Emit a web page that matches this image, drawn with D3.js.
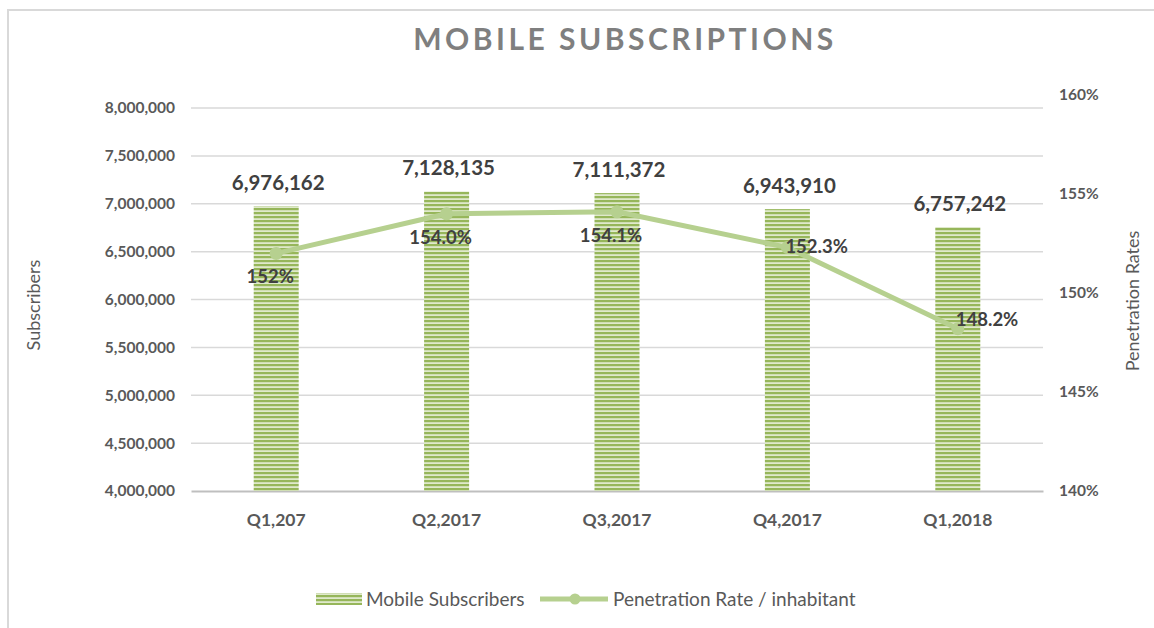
<!DOCTYPE html>
<html>
<head>
<meta charset="utf-8">
<script src="https://cdn.jsdelivr.net/npm/d3@7"></script>
<style>
  body { margin: 0; background: #fff; }
  text { font-family: Lato, "Open Sans", sans-serif; }
</style>
</head>
<body>
<div id="chart"></div>
<script>
// data
const quarters = ["Q1,207", "Q2,2017", "Q3,2017", "Q4,2017", "Q1,2018"];
const subscribers = [6976162, 7128135, 7111372, 6943910, 6757242];
const penetration = [152.0, 154.0, 154.1, 152.3, 148.2];
const penetrationLabels = ["152%", "154.0%", "154.1%", "152.3%", "148.2%"];
const leftTicks = [4000000, 4500000, 5000000, 5500000, 6000000, 6500000, 7000000, 7500000, 8000000];
const rightTicks = [140, 145, 150, 155, 160];

const W = 1154, H = 628;
const margin = {top: 108, left: 191, right: 1043, bottom: 491};

const svg = d3.select("#chart")
    .append("svg")
    .attr("width", W)
    .attr("height", H);

// outer frame (only top/left are visible in the reference)
svg.append("path")
    .attr("d", `M8,${H} L8,10 L${W},10`)
    .attr("fill", "none")
    .attr("stroke", "#d9d9d9")
    .attr("stroke-width", 2);

// striped fill for bars
const defs = svg.append("defs");
const pat = defs.append("pattern")
    .attr("id", "stripes")
    .attr("patternUnits", "userSpaceOnUse")
    .attr("width", 8).attr("height", 4);
pat.append("rect").attr("width", 8).attr("height", 4).attr("fill", "#dfe9cb");
pat.append("rect").attr("width", 8).attr("height", 2.2).attr("fill", "#96b65a");

const x = d3.scaleBand()
    .domain(quarters)
    .range([margin.left, margin.right]);

const yL = d3.scaleLinear()
    .domain([4000000, 8000000])
    .range([margin.bottom, margin.top]);

// right axis in the picture is taller than the left one
const yR = d3.scaleLinear()
    .domain([140, 160])
    .range([margin.bottom, 95]);

// gridlines
svg.append("g")
    .selectAll("line")
    .data(leftTicks.slice(1))
    .enter()
    .append("line")
    .attr("x1", margin.left)
    .attr("x2", margin.right)
    .attr("y1", d => yL(d))
    .attr("y2", d => yL(d))
    .attr("stroke", "#d9d9d9")
    .attr("stroke-width", 1.5);

const fmt = d3.format(",");

// left axis
const leftAxis = svg.append("g")
    .attr("transform", `translate(${margin.left - 16},0)`)
    .call(d3.axisLeft(yL).tickValues(leftTicks).tickFormat(fmt).tickSize(0).tickPadding(0));
leftAxis.select(".domain").remove();
leftAxis.selectAll("text")
    .attr("fill", "#595959")
    .style("font-size", "15.5px")
    .style("font-weight", "bold");

// right axis
const rightAxis = svg.append("g")
    .attr("transform", `translate(1059,0)`)
    .call(d3.axisRight(yR).tickValues(rightTicks).tickFormat(d => d + "%").tickSize(0).tickPadding(0));
rightAxis.select(".domain").remove();
rightAxis.selectAll("text")
    .attr("fill", "#595959")
    .style("font-size", "15.5px")
    .style("font-weight", "bold");

// bottom axis
const bottomAxis = svg.append("g")
    .attr("transform", `translate(0,${margin.bottom})`)
    .call(d3.axisBottom(x).tickSize(0).tickPadding(23));
bottomAxis.select(".domain")
    .attr("stroke", "#bfbfbf")
    .attr("stroke-width", 2);
bottomAxis.selectAll("text")
    .attr("fill", "#595959")
    .style("font-size", "17.5px")
    .style("font-weight", "bold");

// bars
const barW = 45;
svg.append("g")
    .selectAll("rect")
    .data(subscribers)
    .enter()
    .append("rect")
    .attr("x", (d, i) => x(quarters[i]) + x.bandwidth() / 2 - barW / 2)
    .attr("y", d => yL(d))
    .attr("width", barW)
    .attr("height", d => margin.bottom - yL(d))
    .attr("fill", "url(#stripes)");

// bar labels
svg.append("g")
    .selectAll("text")
    .data(subscribers)
    .enter()
    .append("text")
    .attr("x", (d, i) => x(quarters[i]) + x.bandwidth() / 2 + 2)
    .attr("y", d => yL(d) - 16)
    .attr("text-anchor", "middle")
    .attr("fill", "#404040")
    .style("font-size", "20.5px")
    .style("font-weight", "bold")
    .text(d => fmt(d));

// line
const cx = (d, i) => x(quarters[i]) + x.bandwidth() / 2;
const line = d3.line()
    .x(cx)
    .y(d => yR(d));

svg.append("path")
    .datum(penetration)
    .attr("d", line)
    .attr("fill", "none")
    .attr("stroke", "#b6d08f")
    .attr("stroke-width", 5)
    .attr("stroke-linejoin", "round");

svg.append("g")
    .selectAll("circle")
    .data(penetration)
    .enter()
    .append("circle")
    .attr("cx", cx)
    .attr("cy", d => yR(d))
    .attr("r", 6.5)
    .attr("fill", "#b6d08f");

// line labels: first three sit under the point, last two to the right
const labelPlace = ["below", "below", "below", "right", "right"];
svg.append("g")
    .selectAll("text")
    .data(penetration)
    .enter()
    .append("text")
    .attr("x", (d, i) => labelPlace[i] === "right" ? cx(d, i) - 2 : cx(d, i) - 6)
    .attr("y", (d, i) => labelPlace[i] === "right" ? yR(d) + 6 - (i === 4 ? 9 : 0) : yR(d) + 30)
    .attr("text-anchor", (d, i) => labelPlace[i] === "right" ? "start" : "middle")
    .attr("fill", "#404040")
    .style("font-size", "18.5px")
    .style("font-weight", "bold")
    .text((d, i) => penetrationLabels[i]);

// title
svg.append("text")
    .attr("x", 625)
    .attr("y", 50)
    .attr("text-anchor", "middle")
    .attr("fill", "#7f7f7f")
    .style("font-size", "30px")
    .style("font-weight", "bold")
    .style("letter-spacing", "3.5px")
    .text("MOBILE SUBSCRIPTIONS");

// axis titles
svg.append("text")
    .attr("transform", "translate(40,305) rotate(-90)")
    .attr("text-anchor", "middle")
    .attr("fill", "#595959")
    .style("font-size", "18px")
    .text("Subscribers");

svg.append("text")
    .attr("transform", "translate(1139,301) rotate(-90)")
    .attr("text-anchor", "middle")
    .attr("fill", "#595959")
    .style("font-size", "18px")
    .text("Penetration Rates");

// legend
const legend = svg.append("g").attr("transform", "translate(0,599)");
legend.append("rect")
    .attr("x", 316).attr("y", -6)
    .attr("width", 46).attr("height", 12)
    .attr("fill", "url(#stripes)");
legend.append("text")
    .attr("x", 366).attr("y", 7)
    .attr("fill", "#595959")
    .style("font-size", "19px")
    .text("Mobile Subscribers");
legend.append("line")
    .attr("x1", 540).attr("x2", 608)
    .attr("stroke", "#b6d08f")
    .attr("stroke-width", 5);
legend.append("circle")
    .attr("cx", 575).attr("r", 5.5)
    .attr("fill", "#b6d08f");
legend.append("text")
    .attr("x", 613).attr("y", 7)
    .attr("fill", "#595959")
    .style("font-size", "19px")
    .text("Penetration Rate / inhabitant");
</script>
</body>
</html>
